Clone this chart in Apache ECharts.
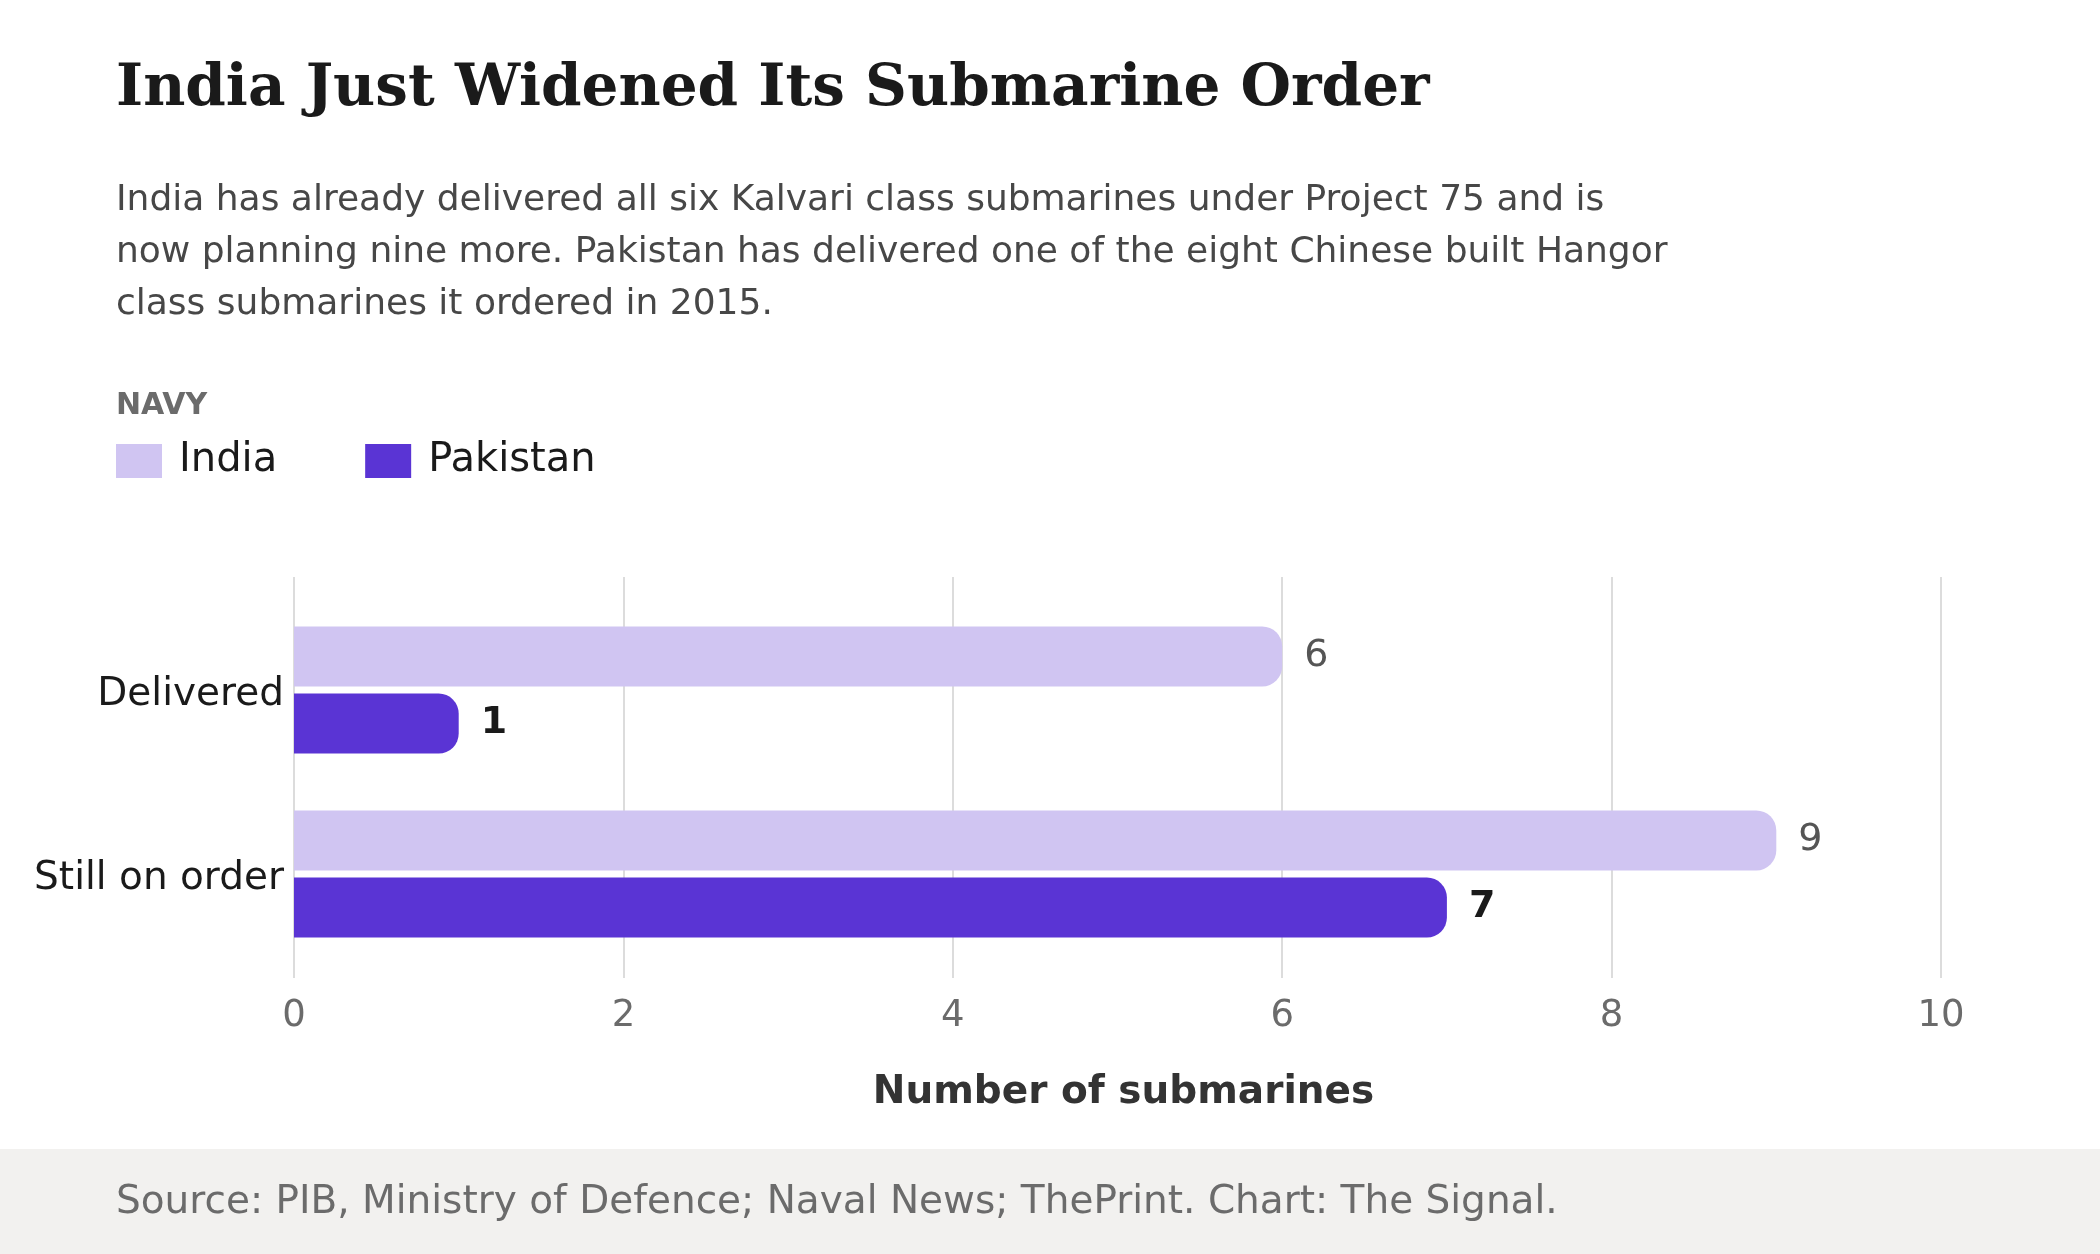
<!DOCTYPE html>
<html>
<head>
<meta charset="utf-8">
<title>India Just Widened Its Submarine Order</title>
<script src="https://cdn.jsdelivr.net/npm/echarts@6/dist/echarts.min.js"></script>
<style>
    html, body { margin: 0; padding: 0; background: #ffffff; }
    #main { width: 2100px; height: 1254px; }
</style>
</head>
<body>
<div id="main"></div>
<script>
// 数据
var categories = ['Delivered', 'Still on order'];
var seriesNames = ['India', 'Pakistan'];
var indiaValues = [6, 9];
var pakistanValues = [1, 7];
var xTicks = [0, 2, 4, 6, 8, 10];

var titleText = 'India Just Widened Its Submarine Order';
var subtitleText = 'India has already delivered all six Kalvari class submarines under Project 75 and is\n' +
    'now planning nine more. Pakistan has delivered one of the eight Chinese built Hangor\n' +
    'class submarines it ordered in 2015.';
var legendTitle = 'NAVY';
var axisTitle = 'Number of submarines';
var sourceText = 'Source: PIB, Ministry of Defence; Naval News; ThePrint. Chart: The Signal.';

var SANS = '"DejaVu Sans", "Noto Sans", sans-serif';
var SERIF = '"DejaVu Serif", serif';

var myChart = echarts.init(document.getElementById('main'), null, { renderer: 'canvas' });

var option = {
    backgroundColor: '#ffffff',
    animation: false,
    textStyle: { fontFamily: SANS },
    graphic: [
        // 底部来源栏
        {
            type: 'rect', z: 0, silent: true,
            shape: { x: 0, y: 1149, width: 2100, height: 105 },
            style: { fill: '#f2f1ef' }
        },
        {
            type: 'text', x: 116, y: 1203, silent: true,
            style: { text: sourceText, font: '39px ' + SANS, fill: '#6b6b6b', verticalAlign: 'middle' }
        },
        // 标题
        {
            type: 'text', x: 116, y: 90, silent: true,
            style: { text: titleText, font: 'bold 58px ' + SERIF, fill: '#1a1a1a', verticalAlign: 'middle' }
        },
        {
            type: 'text', x: 116, y: 253, silent: true,
            style: { text: subtitleText, font: '36px ' + SANS, lineHeight: 52, fill: '#474747', verticalAlign: 'middle' }
        },
        {
            type: 'text', x: 116, y: 406, silent: true,
            style: { text: legendTitle, font: 'bold 30px ' + SANS, fill: '#6b6b6b', verticalAlign: 'middle' }
        }
    ],
    legend: {
        data: seriesNames,
        left: 116,
        top: 441,
        padding: 0,
        icon: 'rect',
        itemWidth: 46,
        itemHeight: 34,
        itemGap: 88,
        selectedMode: false,
        textStyle: { fontSize: 40, color: '#1a1a1a', fontFamily: SANS, padding: [0, 0, 0, 12] }
    },
    grid: [
        // 柱子
        { left: 294, right: 159, top: 598, height: 368 },
        // 网格线与刻度
        { left: 294, right: 159, top: 577, bottom: 276 }
    ],
    xAxis: [
        {
            gridIndex: 0, type: 'value', min: 0, max: 10, interval: 2,
            axisLine: { show: false }, axisTick: { show: false },
            axisLabel: { show: false }, splitLine: { show: false }
        },
        {
            gridIndex: 1, type: 'value', min: xTicks[0], max: xTicks[xTicks.length - 1], interval: 2,
            name: axisTitle,
            nameLocation: 'middle',
            nameGap: 95,
            nameTextStyle: { fontSize: 39, fontWeight: 'bold', color: '#333333', fontFamily: SANS, padding: [0, 0, 0, 12] },
            axisLine: { show: false }, axisTick: { show: false },
            axisLabel: { fontSize: 37, color: '#6b6b6b', margin: 20, fontFamily: SANS },
            splitLine: { show: true, lineStyle: { color: '#dcdcdc', width: 2 } }
        }
    ],
    yAxis: [
        {
            gridIndex: 0, type: 'category', data: categories, inverse: true,
            axisLine: { show: false }, axisTick: { show: false },
            axisLabel: { fontSize: 39, color: '#1a1a1a', margin: 10, verticalAlign: 'top', lineHeight: 9, fontFamily: SANS }
        },
        {
            gridIndex: 1, type: 'category', data: categories, show: false
        }
    ],
    series: [
        {
            name: seriesNames[0],
            type: 'bar',
            xAxisIndex: 0, yAxisIndex: 0,
            data: indiaValues,
            barWidth: 60,
            barGap: '12%',
            itemStyle: { color: '#d0c5f2', borderRadius: [0, 20, 20, 0] },
            label: {
                show: true, position: 'right', distance: 22,
                fontSize: 38, color: '#555555', fontFamily: SANS
            }
        },
        {
            name: seriesNames[1],
            type: 'bar',
            xAxisIndex: 0, yAxisIndex: 0,
            data: pakistanValues,
            barWidth: 60,
            barGap: '12%',
            itemStyle: { color: '#5a34d4', borderRadius: [0, 20, 20, 0] },
            label: {
                show: true, position: 'right', distance: 22,
                fontSize: 38, fontWeight: 'bold', color: '#1a1a1a', fontFamily: SANS
            }
        }
    ]
};

myChart.setOption(option);
</script>
</body>
</html>
